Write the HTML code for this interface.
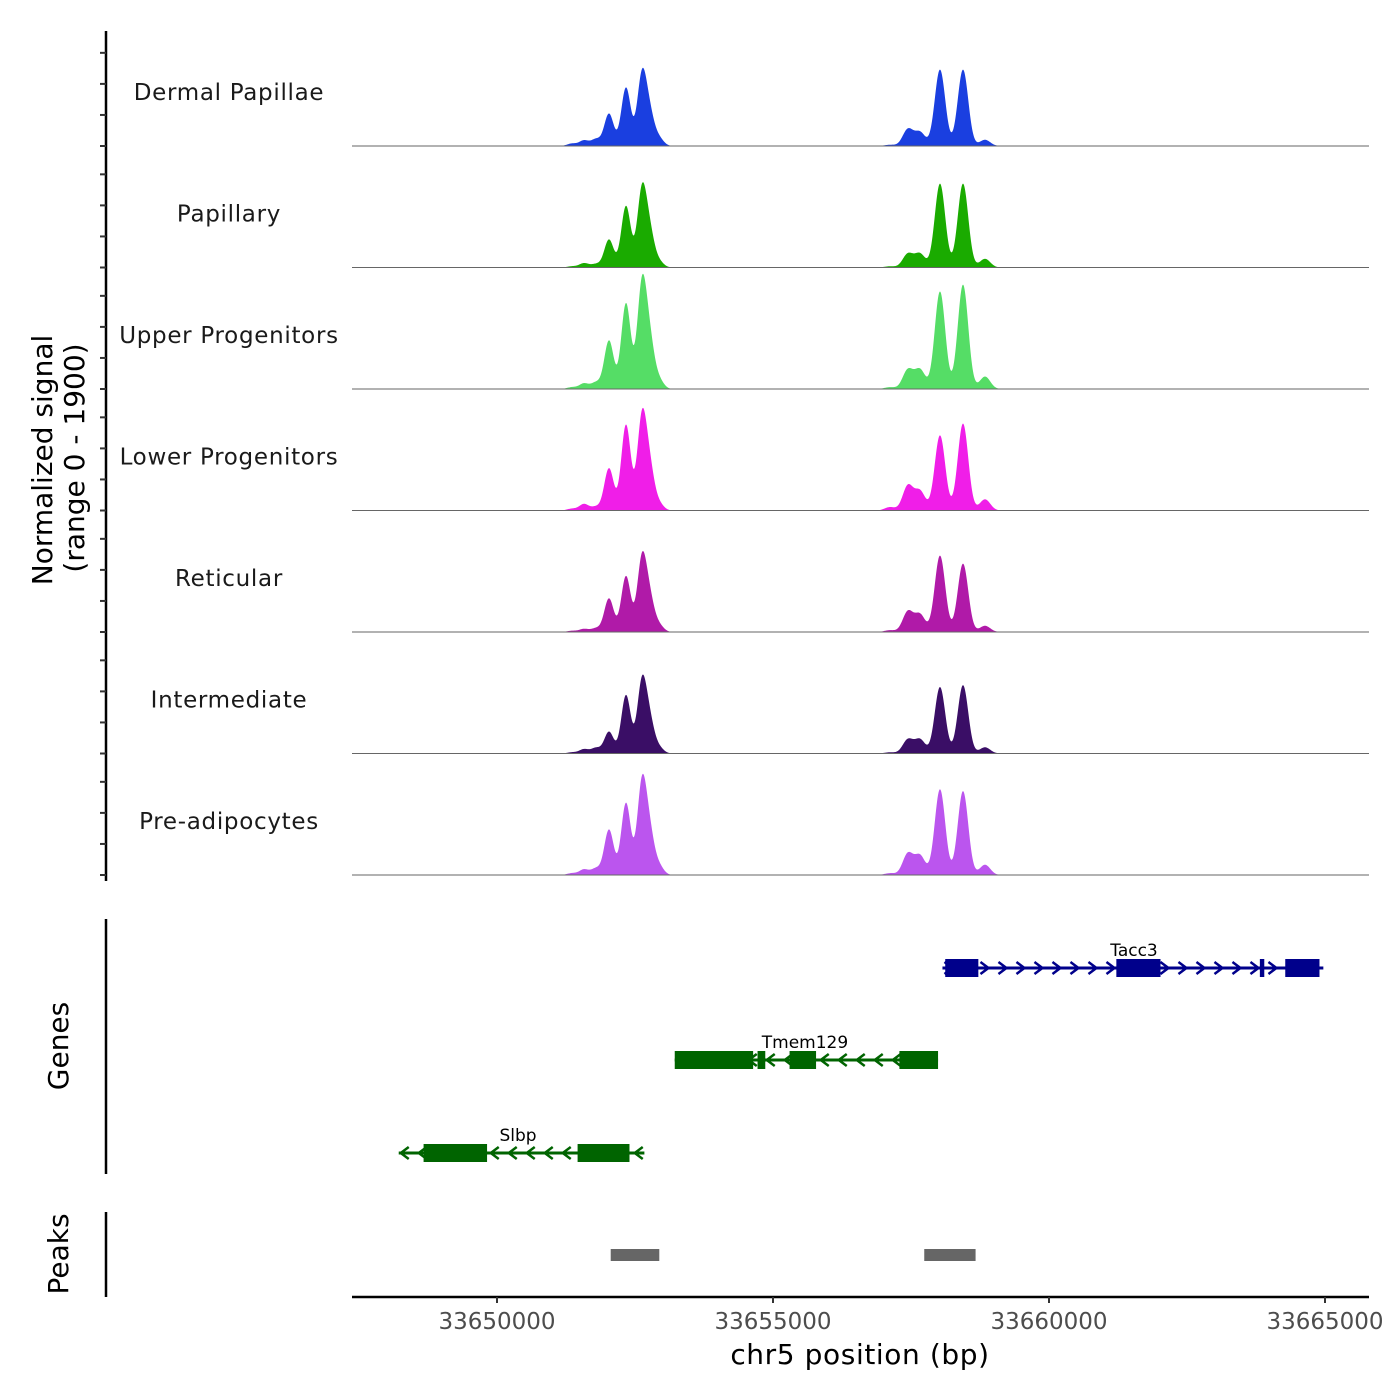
<!DOCTYPE html>
<html><head><meta charset="utf-8"><style>
body{margin:0;background:#fff}
svg{display:block;font-family:"DejaVu Sans","Liberation Sans",sans-serif}
</style></head><body>
<svg id="c" width="1400" height="1400" viewBox="0 0 1400 1400"></svg>
<script>
const trackNames=["Dermal Papillae","Papillary","Upper Progenitors","Lower Progenitors","Reticular","Intermediate","Pre-adipocytes"];
const trackColors=["#1a3fe0","#1aab00","#55dd66","#f01ee8","#b01aa8","#3a0e66","#bb55ee"];
const peakCenters=[33651358,33651576,33651793,33652029,33652337,33652627,33652770,33652935,33657119,33657445,33657663,33658025,33658442,33658841];
const dermalVals=[40,90,110,520,940,1130,450,120,20,270,220,1230,1230,100];
const papillaryVals=[20,70,55,450,990,1230,500,90,20,220,220,1350,1350,140];
const upperVals=[30,90,105,780,1380,1660,680,140,30,310,310,1570,1680,200];
const lowerVals=[30,105,60,680,1380,1480,600,105,55,400,310,1210,1400,180];
const reticularVals=[20,50,60,540,900,1170,470,105,30,330,280,1230,1100,100];
const intermediateVals=[20,70,90,350,940,1140,460,90,20,225,225,1070,1100,100];
const preadipVals=[30,90,105,730,1160,1460,590,140,30,345,310,1380,1350,165];
const seriesVals=[dermalVals,papillaryVals,upperVals,lowerVals,reticularVals,intermediateVals,preadipVals];
const xTicks=[33650000,33655000,33660000,33665000];
const yMax=1900;
const genes=[
 {name:"Tacc3",start:33658070,end:33664970,strand:1,row:0,color:"#00008b",exons:[[33658120,33658720],[33661220,33662020],[33663820,33663900],[33664280,33664900]]},
 {name:"Tmem129",start:33653220,end:33657990,strand:-1,row:1,color:"#006400",exons:[[33653220,33654640],[33654720,33654860],[33655300,33655780],[33657290,33657990]]},
 {name:"Slbp",start:33648220,end:33652670,strand:-1,row:2,color:"#006400",exons:[[33648670,33649820],[33651460,33652400]]}
];
const peakRegions=[[33652060,33652940],[33657740,33658670]];

const svg=document.getElementById('c');const NS="http://www.w3.org/2000/svg";
function mk(t,a,p){const e=document.createElementNS(NS,t);for(const k in a)e.setAttribute(k,a[k]);(p||svg).appendChild(e);return e;}
const X0=352,X1=1369,pxPerBp=0.0552,bp0=33650000-145/pxPerBp;
const xs=bp=>X0+(bp-bp0)*pxPerBp;
const trackH=121.5,firstBase=146,plotH=118;
const ys=v=>v/yMax*plotH;

let ax=mk('line',{x1:106,y1:31,x2:106,y2:881,stroke:'#000','stroke-width':2.5});

for(let i=0;i<7;i++){const b=firstBase+i*trackH;
 for(const v of [0,500,1000,1500]){const t=mk('line',{x1:100,x2:106,y1:b-ys(v),y2:b-ys(v),stroke:'#333','stroke-width':2});
 }}
const yt=mk('text',{x:0,y:0,'font-size':28,'text-anchor':'middle',fill:'#000',transform:'translate(52,460) rotate(-90)'});
yt.textContent="Normalized signal";
const yt2=mk('text',{x:0,y:0,'font-size':28,'text-anchor':'middle',fill:'#000',transform:'translate(84,458) rotate(-90)'});
yt2.textContent="(range 0 - 1900)";

function sigmaFor(c){return c>33655000?95:85;}
for(let i=0;i<7;i++){
 const b=firstBase+i*trackH;const vals=seriesVals[i];
 let d=`M${X0},${b}`;
 for(let x=X0;x<=X1;x+=0.5){const bp=bp0+(x-X0)/pxPerBp;let s=0;
  for(let k=0;k<peakCenters.length;k++){const sg=sigmaFor(peakCenters[k]);const z=(bp-peakCenters[k])/sg;s+=vals[k]*Math.exp(-0.5*z*z);}
  d+=`L${x},${(b-ys(Math.min(s,yMax))).toFixed(2)}`;}
 d+=`L${X1},${b}Z`;
 const p=mk('path',{d:d,fill:trackColors[i]});
 
 const bl=mk('line',{x1:X0,x2:X1,y1:b,y2:b,stroke:'#666','stroke-width':1});
 
 const lb=mk('text',{x:229,y:b-54+8,'font-size':23,'text-anchor':'middle',fill:'#1a1a1a','letter-spacing':'0.7'});
 lb.textContent=trackNames[i];
}

const ga=mk('line',{x1:106,y1:919,x2:106,y2:1174,stroke:'#000','stroke-width':2.5});

const gt=mk('text',{x:0,y:0,'font-size':28,'text-anchor':'middle',fill:'#000',transform:'translate(68,1046) rotate(-90)'});
gt.textContent="Genes";
const rowY=[968,1060,1153];
const labelX={"Tacc3":1134,"Tmem129":805,"Slbp":518};
for(const g of genes){const y=rowY[g.row];const x1=xs(g.start),x2=xs(g.end);
 const grp=mk('g',{});
 mk('line',{x1:x1,x2:x2,y1:y,y2:y,stroke:g.color,'stroke-width':3},grp);
 for(let x=x1+6;x<x2;x+=18){const dx=g.strand*4;
  mk('polyline',{points:`${x-dx},${y-6} ${x+dx},${y} ${x-dx},${y+6}`,fill:'none',stroke:g.color,'stroke-width':2.5},grp);}
 for(const e of g.exons){const ex=xs(e[0]),ew=Math.max(3,xs(e[1])-ex);
  mk('rect',{x:ex,y:y-9,width:ew,height:18,fill:g.color},grp);}
 const t=mk('text',{x:labelX[g.name],y:y-12,'font-size':17,'text-anchor':'middle',fill:'#000'},grp);
 t.textContent=g.name;
}

const pa=mk('line',{x1:106,y1:1212,x2:106,y2:1297,stroke:'#000','stroke-width':2.5});

const pt=mk('text',{x:0,y:0,'font-size':28,'text-anchor':'middle',fill:'#000',transform:'translate(68,1254) rotate(-90)'});
pt.textContent="Peaks";
for(const r of peakRegions){const rc=mk('rect',{x:xs(r[0]),y:1249,width:xs(r[1])-xs(r[0]),height:12,fill:'#666'});
 }

const xa=mk('line',{x1:X0,x2:X1,y1:1297,y2:1297,stroke:'#000','stroke-width':2.5});

for(const t of xTicks){const x=xs(t);
 const tk=mk('line',{x1:x,x2:x,y1:1297,y2:1303,stroke:'#333','stroke-width':2});
 
 const tl=mk('text',{x:x,y:1329,'font-size':23,'text-anchor':'middle',fill:'#4d4d4d'});
 tl.textContent=String(t);}
const xt=mk('text',{x:860,y:1364,'font-size':28,'text-anchor':'middle',fill:'#000','letter-spacing':'0.6'});
xt.textContent="chr5 position (bp)";
</script>
</body></html>
